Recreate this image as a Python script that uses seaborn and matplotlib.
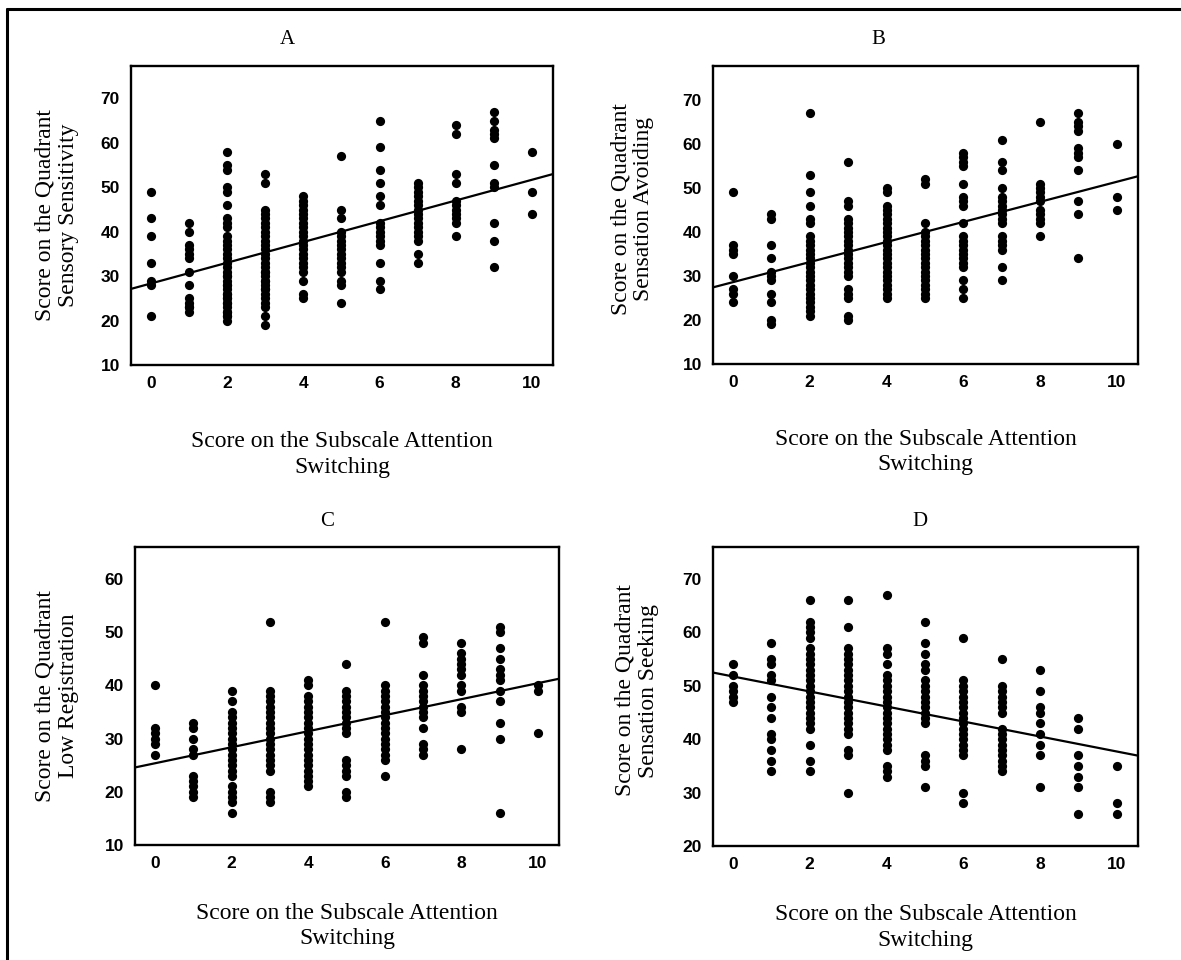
import matplotlib
matplotlib.use("Agg")
import matplotlib.pyplot as plt
import pandas as pd
import seaborn as sns
from matplotlib.lines import Line2D

# ---------------- data ----------------
attention_scores = [0, 1, 2, 3, 4, 5, 6, 7, 8, 9, 10]

sensory_sensitivity = [
    [49, 43, 39, 33, 29, 28, 21],
    [42, 40, 37, 36, 35, 34, 31, 28, 25, 24, 23, 22, 23],
    [58, 55, 54, 50, 49, 46, 43, 42, 41, 39, 38, 37, 36, 35, 34, 33, 32, 31, 30, 29, 28, 27, 26, 25, 24, 23, 22, 21, 20,
     22, 24, 26, 28, 30, 21, 25],
    [53, 51, 45, 44, 43, 42, 41, 40, 39, 38, 37, 36, 35, 34, 33, 32, 31, 30, 29, 28, 27, 26, 25, 23, 21, 19,
     24, 27, 29, 31],
    [48, 47, 46, 45, 44, 43, 42, 41, 40, 39, 38, 37, 36, 35, 34, 33, 32, 31, 29, 26, 25],
    [57, 45, 43, 40, 39, 38, 37, 36, 35, 34, 33, 32, 31, 29, 28, 24],
    [65, 59, 54, 51, 48, 46, 42, 41, 40, 39, 38, 37, 33, 29, 27],
    [51, 50, 49, 48, 47, 46, 45, 44, 43, 42, 41, 40, 39, 38, 35, 33],
    [64, 62, 53, 51, 47, 46, 45, 44, 43, 42, 39],
    [67, 65, 63, 62, 61, 55, 51, 50, 42, 38, 32],
    [58, 49, 44],
]

sensation_avoiding = [
    [49, 37, 36, 35, 30, 27, 26, 24],
    [44, 43, 37, 34, 31, 30, 29, 26, 24, 20, 19],
    [67, 53, 49, 46, 43, 42, 39, 38, 37, 36, 35, 34, 33, 32, 31, 30, 29, 28, 27, 26, 25, 24, 23, 22, 21],
    [56, 47, 46, 43, 42, 41, 40, 39, 38, 37, 36, 35, 34, 33, 32, 31, 30, 27, 26, 25, 21, 20],
    [50, 49, 46, 45, 44, 43, 42, 41, 40, 39, 38, 37, 36, 35, 34, 33, 32, 31, 30, 29, 28, 27, 26, 25],
    [52, 51, 42, 40, 39, 38, 37, 36, 35, 34, 33, 32, 31, 30, 29, 28, 27, 26, 25],
    [58, 57, 56, 55, 51, 48, 47, 46, 42, 39, 38, 37, 36, 35, 34, 33, 32, 29, 27, 25],
    [61, 56, 54, 50, 48, 47, 46, 45, 44, 43, 42, 39, 38, 37, 36, 32, 29],
    [65, 51, 50, 49, 48, 47, 45, 44, 43, 42, 39],
    [67, 65, 64, 63, 59, 58, 57, 54, 47, 44, 34],
    [60, 48, 45],
]

low_registration = [
    [40, 32, 31, 30, 29, 27],
    [33, 32, 30, 28, 27, 23, 22, 21, 20, 19],
    [39, 37, 35, 34, 33, 32, 31, 30, 29, 28, 27, 26, 25, 24, 23, 21, 20, 19, 18, 16],
    [52, 39, 38, 37, 36, 35, 34, 33, 32, 31, 30, 29, 28, 27, 26, 25, 24, 20, 19, 18],
    [41, 40, 38, 37, 36, 35, 34, 33, 32, 31, 30, 29, 28, 27, 26, 25, 24, 23, 22, 21],
    [44, 39, 38, 37, 36, 35, 34, 33, 32, 31, 26, 25, 24, 23, 20, 19],
    [52, 40, 39, 38, 37, 36, 35, 34, 33, 32, 31, 30, 29, 28, 27, 26, 23],
    [49, 48, 42, 40, 39, 38, 37, 36, 35, 34, 32, 29, 28, 27],
    [48, 46, 45, 44, 43, 42, 40, 39, 36, 35, 28],
    [51, 50, 47, 45, 43, 42, 41, 39, 37, 33, 30, 16],
    [40, 39, 31],
]

sensation_seeking = [
    [54, 52, 50, 49, 48, 47],
    [58, 55, 54, 52, 51, 48, 46, 44, 41, 40, 38, 36, 34],
    [66, 62, 61, 60, 59, 57, 56, 55, 54, 53, 52, 51, 50, 49, 48, 47, 46, 45, 44, 43, 42, 39, 36, 34],
    [66, 61, 57, 56, 55, 54, 53, 52, 51, 50, 49, 48, 47, 46, 45, 44, 43, 42, 41, 38, 37, 30],
    [67, 57, 56, 54, 52, 51, 50, 49, 48, 47, 46, 45, 44, 43, 42, 41, 40, 39, 38, 35, 34, 33],
    [62, 58, 56, 54, 53, 51, 50, 49, 48, 47, 46, 45, 44, 43, 37, 36, 35, 31],
    [59, 51, 50, 49, 48, 47, 46, 45, 44, 43, 42, 41, 40, 39, 38, 37, 30, 28],
    [55, 50, 49, 48, 47, 46, 45, 42, 41, 40, 39, 38, 37, 36, 35, 34],
    [53, 49, 46, 45, 43, 41, 39, 37, 31],
    [44, 42, 37, 35, 33, 31, 26],
    [35, 28, 26],
]

panel_letters = ["A", "B", "C", "D"]
y_labels = [
    "Score on the Quadrant\nSensory Sensitivity",
    "Score on the Quadrant\nSensation Avoiding",
    "Score on the Quadrant\nLow Registration",
    "Score on the Quadrant\nSensation Seeking",
]
x_label = "Score on the Subscale Attention\nSwitching"
x_ticks = [0, 2, 4, 6, 8, 10]
y_ticks = [
    [10, 20, 30, 40, 50, 60, 70],
    [10, 20, 30, 40, 50, 60, 70],
    [10, 20, 30, 40, 50, 60],
    [20, 30, 40, 50, 60, 70],
]
panels_data = [sensory_sensitivity, sensation_avoiding, low_registration, sensation_seeking]

# ---------------- layout / style ----------------
W, H = 1181, 960
sns.set_theme(style="white")
plt.rcParams['font.family'] = ['Liberation Serif', 'DejaVu Serif']

fig = plt.figure(figsize=(W / 100, H / 100), dpi=100)
fig.patch.set_facecolor("white")

# axes boxes in pixels: left, top, right, bottom
boxes = [(131, 66, 553, 365), (713, 66, 1138, 364), (135, 547, 559, 845), (713, 547, 1138, 846)]
y_limits = [(10, 77.3), (10, 77.7), (10, 66.0), (20, 76.0)]
title_pos = [(287, 40), (878, 40), (327, 522), (920, 522)]
ylabel_pos = [(-0.175, 0.50), (-0.19, 0.52), (-0.185, 0.50), (-0.18, 0.52)]
xlabel_pos = [-0.30, -0.295, -0.272, -0.272]

for i in range(4):
    l, t, r, b = boxes[i]
    ax = fig.add_axes([l / W, 1 - b / H, (r - l) / W, (b - t) / H])
    df = pd.DataFrame(
        [(x, v) for x, col in zip(attention_scores, panels_data[i]) for v in col],
        columns=["switching", "score"],
    )
    ax.set_xlim(-0.52, 10.55)
    ax.set_ylim(*y_limits[i])
    sns.regplot(
        data=df, x="switching", y="score", ax=ax, ci=None, truncate=False,
        scatter_kws=dict(s=44, color="black", linewidths=0, alpha=1),
        line_kws=dict(color="black", lw=1.6),
    )
    ax.set_xlim(-0.52, 10.55)
    ax.set_ylim(*y_limits[i])
    ax.set_xticks(x_ticks)
    ax.set_yticks(y_ticks[i])
    ax.tick_params(length=0, labelsize=12.5, pad=8, colors="black")
    for lab in ax.get_xticklabels() + ax.get_yticklabels():
        lab.set_fontfamily("Liberation Sans")
        lab.set_fontweight("bold")
    for s in ax.spines.values():
        s.set_visible(True)
        s.set_color("black")
        s.set_linewidth(1.7)
    ax.grid(False)
    ax.set_xlabel(x_label, fontsize=17, color="black", linespacing=1.3, va="center")
    ax.xaxis.set_label_coords(0.5, xlabel_pos[i])
    ax.set_ylabel(y_labels[i], fontsize=17, color="black", linespacing=1.15, va="center")
    ax.yaxis.set_label_coords(*ylabel_pos[i])
    tx, ty = title_pos[i]
    fig.text(tx / W, 1 - ty / H, panel_letters[i], ha="center", va="center", fontsize=15, color="black")

# outer frame (top and left edges)
fig.add_artist(Line2D([7 / W, 1.0], [1 - 9 / H, 1 - 9 / H], transform=fig.transFigure, color="black", lw=2.2))
fig.add_artist(Line2D([7 / W, 7 / W], [0.0, 1 - 9 / H], transform=fig.transFigure, color="black", lw=2.2))

fig.savefig("out.png", dpi=100, facecolor="white")
